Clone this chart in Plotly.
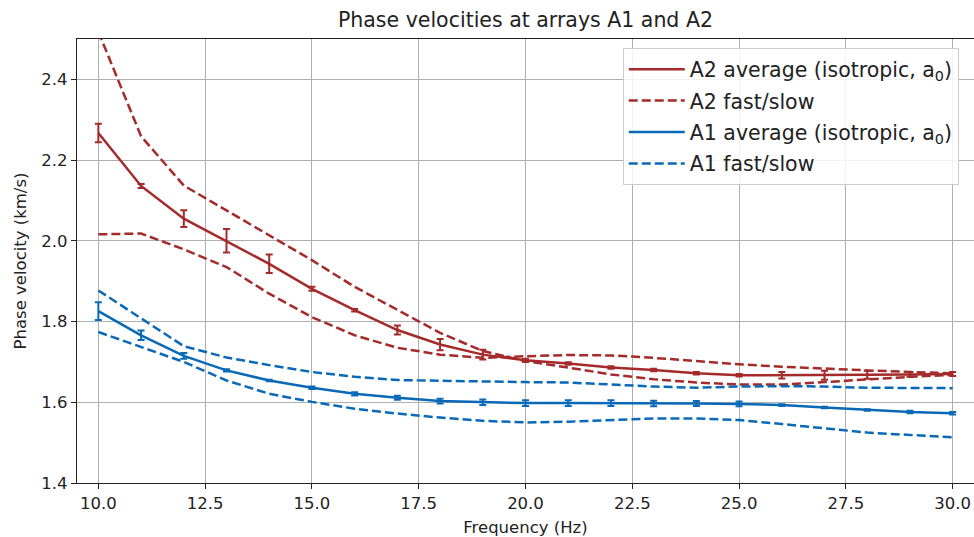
import plotly.graph_objects as go

freq = list(range(10, 31))

a2_avg = [2.267, 2.136, 2.055, 2.000, 1.943, 1.881, 1.828, 1.779, 1.743, 1.718, 1.704,
          1.696, 1.686, 1.680, 1.672, 1.667, 1.667, 1.667, 1.668, 1.669, 1.670]
a2_err = [0.023, 0.005, 0.021, 0.029, 0.023, 0.005, 0.003, 0.011, 0.014, 0.012, 0.004,
          0.003, 0.003, 0.003, 0.003, 0.003, 0.008, 0.011, 0.010, 0.006, 0.005]
a2_fast = [2.518, 2.259, 2.137, 2.076, 2.014, 1.952, 1.886, 1.829, 1.772, 1.727, 1.702,
           1.686, 1.669, 1.657, 1.649, 1.644, 1.644, 1.650, 1.657, 1.663, 1.668]
a2_slow = [2.016, 2.018, 1.979, 1.935, 1.869, 1.811, 1.766, 1.735, 1.718, 1.710, 1.714,
           1.717, 1.716, 1.710, 1.702, 1.694, 1.688, 1.683, 1.679, 1.675, 1.672]

a1_avg = [1.826, 1.766, 1.715, 1.679, 1.654, 1.636, 1.621, 1.611, 1.603, 1.600, 1.598,
          1.598, 1.598, 1.597, 1.597, 1.596, 1.593, 1.587, 1.581, 1.576, 1.573]
a1_err = [0.022, 0.012, 0.007, 0.003, 0.002, 0.003, 0.004, 0.005, 0.006, 0.007, 0.007,
          0.007, 0.007, 0.007, 0.006, 0.006, 0.002, 0.002, 0.002, 0.003, 0.003]
a1_fast = [1.877, 1.807, 1.739, 1.711, 1.692, 1.675, 1.663, 1.655, 1.653, 1.652, 1.650,
           1.649, 1.644, 1.639, 1.636, 1.639, 1.640, 1.639, 1.636, 1.635, 1.635]
a1_slow = [1.774, 1.737, 1.700, 1.654, 1.621, 1.601, 1.584, 1.572, 1.562, 1.554, 1.550,
           1.552, 1.556, 1.560, 1.560, 1.556, 1.546, 1.535, 1.525, 1.519, 1.513]

RED = "#a52a2a"
BLUE = "#0a69b6"
FONT = "DejaVu Sans"
TXT = "#222222"

fig = go.Figure()

def add_group(name_avg, name_dash, avg, err, fast, slow, color, grp):
    fig.add_trace(go.Scatter(x=freq, y=avg, mode="lines", name=name_avg,
                             line=dict(color=color, width=2.5),
                             legendgroup=grp + "a"))
    fig.add_trace(go.Scatter(x=freq, y=avg, mode="markers", showlegend=False,
                             marker=dict(size=1, color="rgba(0,0,0,0)"),
                             error_y=dict(type="data", array=err, visible=True,
                                          color=color, thickness=2, width=3.5),
                             hoverinfo="skip", legendgroup=grp + "a"))
    fig.add_trace(go.Scatter(x=freq, y=fast, mode="lines", name=name_dash,
                             line=dict(color=color, width=2.5, dash="9px,4px"),
                             legendgroup=grp + "d"))
    fig.add_trace(go.Scatter(x=freq, y=slow, mode="lines", name=name_dash,
                             line=dict(color=color, width=2.5, dash="9px,4px"),
                             showlegend=False, legendgroup=grp + "d"))

add_group("A2 average (isotropic, a<sub>0</sub>)", "A2 fast/slow",
          a2_avg, a2_err, a2_fast, a2_slow, RED, "A2")
add_group("A1 average (isotropic, a<sub>0</sub>)", "A1 fast/slow",
          a1_avg, a1_err, a1_fast, a1_slow, BLUE, "A1")

axis_common = dict(
    showgrid=True, gridcolor="#b0b0b0", gridwidth=1,
    showline=True, linecolor="#222222", linewidth=1.2,
    ticks="outside", ticklen=5, tickwidth=1.2, tickcolor="#222222",
    tickfont=dict(family=FONT, size=16.5, color=TXT),
    zeroline=False,
)

fig.update_layout(
    width=974, height=537,
    margin=dict(l=77, r=0, t=39, b=54),
    paper_bgcolor="white", plot_bgcolor="white",
    font=dict(family=FONT, color=TXT),
    title=dict(text="Phase velocities at arrays A1 and A2",
               font=dict(family=FONT, size=20.5, color=TXT),
               x=0.5395, xref="container", xanchor="center",
               y=1 - 20 / 537, yref="container", yanchor="middle"),
    xaxis=dict(range=[9.5, 30.5], tickvals=[10, 12.5, 15, 17.5, 20, 22.5, 25, 27.5, 30],
               ticktext=["10.0", "12.5", "15.0", "17.5", "20.0", "22.5", "25.0", "27.5", "30.0"],
               mirror=True,
               title=dict(text="Frequency (Hz)", font=dict(family=FONT, size=16.5, color=TXT),
                          standoff=11),
               **axis_common),
    yaxis=dict(range=[1.4, 2.5], tickvals=[1.4, 1.6, 1.8, 2.0, 2.2, 2.4],
               ticktext=["1.4", "1.6", "1.8", "2.0", "2.2", "2.4"],
               title=dict(text="Phase velocity (km/s)", font=dict(family=FONT, size=16.5, color=TXT),
                          standoff=10),
               **axis_common),
    legend=dict(x=0.983, xanchor="right", y=0.979, yanchor="top",
                bgcolor="rgba(255,255,255,0.85)", bordercolor="#cccccc", borderwidth=1,
                font=dict(family=FONT, size=20.5, color=TXT),
                tracegroupgap=1.8, traceorder="grouped", itemwidth=56),
    showlegend=True,
)

fig.write_html("out.html", config={"displayModeBar": False},
               post_script="document.body.style.margin='0';document.body.style.padding='0';")
